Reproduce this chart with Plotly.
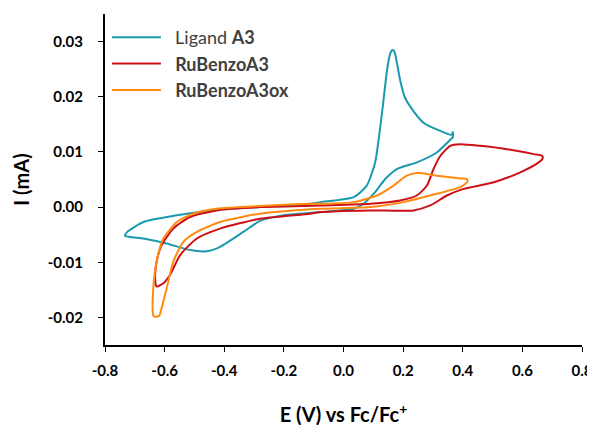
import plotly.graph_objects as go

# Ligand A3
lig_x = [-0.28, -0.112, -0.078, 0.034, 0.078, 0.106, 0.129, 0.146, 0.155, 0.162, 0.168, 0.173, 0.190, 0.205, 0.224, 0.268, 0.325, 0.362, 0.367,
         0.367, 0.358, 0.313, 0.246, 0.179, 0.140, 0.106, 0.067, 0.034, -0.05, -0.201, -0.28, -0.336, -0.414, -0.459, -0.515, -0.593, -0.671, -0.733,
         -0.725, -0.671, -0.559, -0.448, -0.28]
lig_y = [0.0, 0.0006, 0.0009, 0.0018, 0.0039, 0.0081, 0.017, 0.0248, 0.0275, 0.0284, 0.0284, 0.0278, 0.023, 0.0200, 0.0182, 0.0153, 0.0138, 0.0131, 0.0136,
         0.0127, 0.0122, 0.0099, 0.0081, 0.0069, 0.0051, 0.0027, 0.0006, -0.0003, -0.0008, -0.0015, -0.0025, -0.0045, -0.0072, -0.0080, -0.0078, -0.0066, -0.0057, -0.0052,
         -0.0045, -0.0027, -0.0015, -0.0006, 0.0]

# RuBenzoA3
ru_x = [-0.28, -0.078, 0.09, 0.19, 0.246, 0.28, 0.302, 0.325, 0.358, 0.392, 0.459, 0.548, 0.638, 0.666, 0.668,
        0.655, 0.593, 0.504, 0.403, 0.347, 0.291, 0.235, 0.09, -0.078, -0.112, -0.28, -0.414, -0.492, -0.548, -0.582, -0.604, -0.627,
        -0.632, -0.627, -0.61, -0.571, -0.515, -0.425, -0.28]
ru_y = [0.0, 0.0003, 0.0006, 0.0012, 0.0021, 0.0039, 0.0069, 0.0093, 0.0111, 0.0114, 0.0111, 0.0105, 0.0096, 0.0093, 0.0088,
        0.0081, 0.0063, 0.0045, 0.0033, 0.0021, 0.0003, -0.0006, -0.0006, -0.0009, -0.0012, -0.0021, -0.0039, -0.0057, -0.0087, -0.0123, -0.0138, -0.0144,
        -0.0129, -0.0099, -0.0069, -0.0039, -0.0018, -0.0006, 0.0]

# RuBenzoA3ox
ox_x = [-0.28, -0.112, -0.078, 0.034, 0.112, 0.168, 0.212, 0.246, 0.313, 0.392, 0.414, 0.416,
        0.392, 0.313, 0.201, 0.09, -0.078, -0.112, -0.28, -0.414, -0.492, -0.537, -0.571, -0.593, -0.61, -0.618, -0.628, -0.638,
        -0.640, -0.638, -0.627, -0.604, -0.559, -0.504, -0.425, -0.28]
ox_y = [0.0002, 0.0006, 0.0006, 0.0009, 0.0021, 0.0039, 0.0057, 0.0062, 0.0057, 0.0052, 0.0051, 0.0046,
        0.0036, 0.0024, 0.0009, 0.0, -0.0003, -0.0004, -0.0012, -0.0027, -0.0045, -0.0063, -0.0099, -0.0147, -0.0183, -0.0197, -0.0199, -0.0197,
        -0.0189, -0.0147, -0.0099, -0.0057, -0.0027, -0.0012, -0.0003, 0.0002]

x_ticks = [-0.8, -0.6, -0.4, -0.2, 0.0, 0.2, 0.4, 0.6, 0.8]
y_ticks = [-0.02, -0.01, 0.0, 0.01, 0.02, 0.03]

series = [
    ("&nbsp;&nbsp;Ligand <b>A3</b>", lig_x, lig_y, "#1a9aad"),
    ("&nbsp;&nbsp;<b>RuBenzoA3</b>", ru_x, ru_y, "#cc1016"),
    ("&nbsp;&nbsp;<b>RuBenzoA3ox</b>", ox_x, ox_y, "#ff8a10"),
]

fig = go.Figure()
for i, (name, xs, ys, col) in enumerate(series):
    fig.add_trace(go.Scatter(x=xs, y=ys, mode="lines", name=name, legendgroup=str(i),
                             line=dict(color=col, width=2, shape="spline", smoothing=0.6)))

font_family = "Lato, 'Open Sans', sans-serif"
fig.update_layout(
    width=587, height=418,
    margin=dict(l=97, r=13, t=6, b=81),
    paper_bgcolor="white", plot_bgcolor="white",
    font=dict(family=font_family, color="#000000"),
    showlegend=True,
    legend=dict(x=0.004, y=0.985, xanchor="left", yanchor="top", bgcolor="rgba(0,0,0,0)",
                font=dict(size=18, color="#404040", family=font_family), tracegroupgap=0,
                itemwidth=49),
    xaxis=dict(range=[-0.8, 0.8], tickvals=x_ticks, ticktext=[f"{v:.1f}" for v in x_ticks],
               automargin=False,
               showgrid=False, zeroline=False, showline=True, linecolor="black", linewidth=2,
               ticks="outside", ticklen=5, tickwidth=1, tickcolor="black", ticklabelstandoff=6,
               tickfont=dict(size=15, family=font_family, color="black", weight="bold"),
               title=dict(text="<b>E (V) vs Fc/Fc<sup>+</sup></b>", font=dict(size=20, family=font_family, color="black"), standoff=32)),
    yaxis=dict(range=[-0.025, 0.035], tickvals=y_ticks, ticktext=[f"{v:.2f}" for v in y_ticks],
               automargin=False,
               showgrid=False, zeroline=False, showline=True, linecolor="black", linewidth=2,
               ticks="outside", ticklen=5, tickwidth=1, tickcolor="black", ticklabelstandoff=12,
               tickfont=dict(size=15, family=font_family, color="black", weight="bold"),
               title=dict(text="<b>I (mA)</b>", font=dict(size=20, family=font_family, color="black"), standoff=13)),
)
fig.write_html("out.html")
